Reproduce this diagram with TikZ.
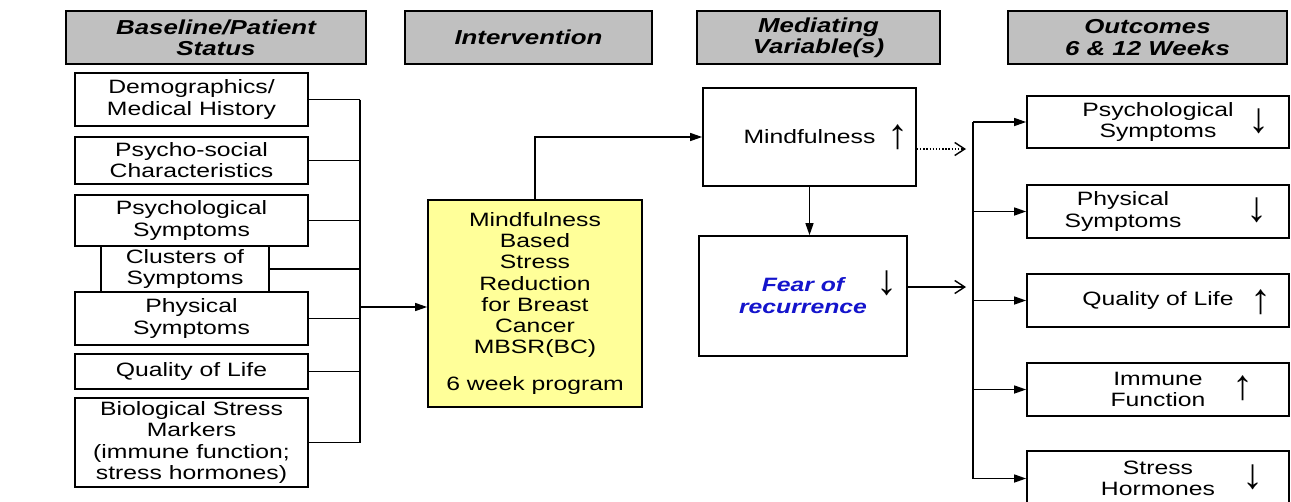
\documentclass[tikz,border=0pt]{standalone}
\usepackage{fontspec}
\setmainfont{Liberation Sans}[FakeStretch=1.28]
\newfontfamily\arrowfont{Liberation Sans}
\usetikzlibrary{arrows.meta, positioning, calc}
\definecolor{headgray}{RGB}{192,192,192}
\definecolor{mbsryellow}{RGB}{255,255,153}
\definecolor{fearblue}{RGB}{20,20,204}
\tikzset{
    header/.style={draw, line width=1.1pt, fill=headgray, inner sep=0pt, minimum height=1.06cm, align=center, font=\fontsize{11.5}{12.2}\selectfont\bfseries\itshape},
    box/.style={draw, line width=1pt, fill=white, inner sep=0pt, align=center, font=\fontsize{11}{12}\selectfont},
    wide/.style={box, minimum width=4.66cm},
    outbox/.style={box, minimum width=5.24cm},
    glyph/.style={inner sep=0pt, font=\arrowfont\fontsize{24}{24}\selectfont},
    line/.style={draw, line width=0.8pt},
    arrow/.style={line, -{Triangle[length=2.4mm, width=1.6mm]}},
    openarrow/.style={line, -{Straight Barb[length=2mm, width=2.6mm]}}
}
\begin{document}
\begin{tikzpicture}[x=0.02cm, y=-0.02cm]
        \useasboundingbox (0,0) rectangle (1291,501);

        % Column headers
        \node[header, minimum width=6cm] (hbase) at (216,37.5) {Baseline/Patient\\Status};
        \node[header, minimum width=4.94cm] (hint) at (528.5,37.5) {Intervention};
        \node[header, minimum width=4.86cm] (hmed) at (818.5,37.5) {Mediating\\Variable(s)};
        \node[header, minimum width=5.58cm] (hout) at (1147.5,37.5) {Outcomes\\6 \& 12 Weeks};

        % Baseline measures
        \node[wide, minimum height=1.06cm] (demo) at (191.5,99.5) {Demographics/\\Medical History};
        \node[wide, minimum height=0.94cm] (social) at (191.5,160.5) {Psycho-social\\Characteristics};
        \node[wide, minimum height=1.02cm] (psych) at (191.5,220.5) {Psychological\\Symptoms};
        \node[box, minimum width=3.36cm, minimum height=0.92cm] (cluster) at (185,269) {Clusters of\\Symptoms};
        \node[wide, minimum height=1.06cm] (phys) at (191.5,318.5) {Physical\\Symptoms};
        \node[wide, minimum height=0.70cm] (qol) at (191.5,371.5) {Quality of Life};
        \node[wide, minimum height=1.78cm] (bio) at (191.5,442.5) {Biological Stress\\Markers\\(immune function;\\stress hormones)};

        % Intervention
        \node[box, fill=mbsryellow, minimum width=4.28cm, minimum height=4.14cm] (mbsr) at (535,303.5) {Mindfulness\\Based\\Stress\\Reduction\\for Breast\\Cancer\\MBSR(BC)\\[9pt]6 week program};

        % Mediators
        \node[box, minimum width=4.26cm, minimum height=1.96cm] (mind) at (809.5,137) {Mindfulness};
        \node[glyph] (mindup) at (898,137) {↑};
        \node[box, minimum width=4.16cm, minimum height=2.4cm, font=\fontsize{11}{12.5}\selectfont\bfseries\itshape, text=fearblue] (fear) at (803,296) {Fear of\\recurrence};
        \node[glyph] (feardown) at (887,283) {↓};

        % Outcomes
        \node[outbox, minimum height=1.04cm] (opsych) at (1158,122) {Psychological\\Symptoms};
        \node[outbox, minimum height=1.06cm] (ophys) at (1158,211.5) {Physical\hspace*{1.4cm}\\Symptoms\hspace*{1.4cm}};
        \node[outbox, minimum height=1.06cm] (oqol) at (1158,300.5) {Quality of Life};
        \node[outbox, minimum height=1.06cm] (oimm) at (1158,389.5) {Immune\\Function};
        \node[outbox, minimum height=1.10cm] (ostress) at (1158,478.5) {Stress\\Hormones};
        \node[glyph] (opsychdn) at (1259,121) {↓};
        \node[glyph] (ophysdn) at (1257,210) {↓};
        \node[glyph] (oqolup) at (1261,302) {↑};
        \node[glyph] (oimmup) at (1243,388) {↑};
        \node[glyph] (ostressdn) at (1253,477) {↓};

        % Baseline bus into the intervention
        \coordinate (lbus) at (360,307);
        \foreach \n in {demo,social,psych,cluster,phys,qol,bio}
            \draw[line] (\n.east) -- (\n.east -| lbus);
        \draw[line] (demo.east -| lbus) -- (bio.east -| lbus);
        \draw[arrow] (lbus) -- (lbus -| mbsr.west);

        % Intervention to mediators
        \draw[arrow] (mbsr.north) |- (mind.west);
        \draw[arrow] (mind.south) -- (mind.south |- fear.north);
        \coordinate (mtip) at (966,149);
        \coordinate (ftip) at (966,287);
        \draw[openarrow, densely dotted] (mind.east |- mtip) -- (mtip);
        \draw[openarrow] (fear.east |- ftip) -- (ftip);

        % Outcome bus
        \coordinate (obus) at (973,0);
        \draw[line] (opsych.west -| obus) -- (ostress.west -| obus);
        \foreach \n in {opsych,ophys,oqol,oimm,ostress}
            \draw[arrow] (\n.west -| obus) -- (\n.west);
    \end{tikzpicture}
\end{document}
